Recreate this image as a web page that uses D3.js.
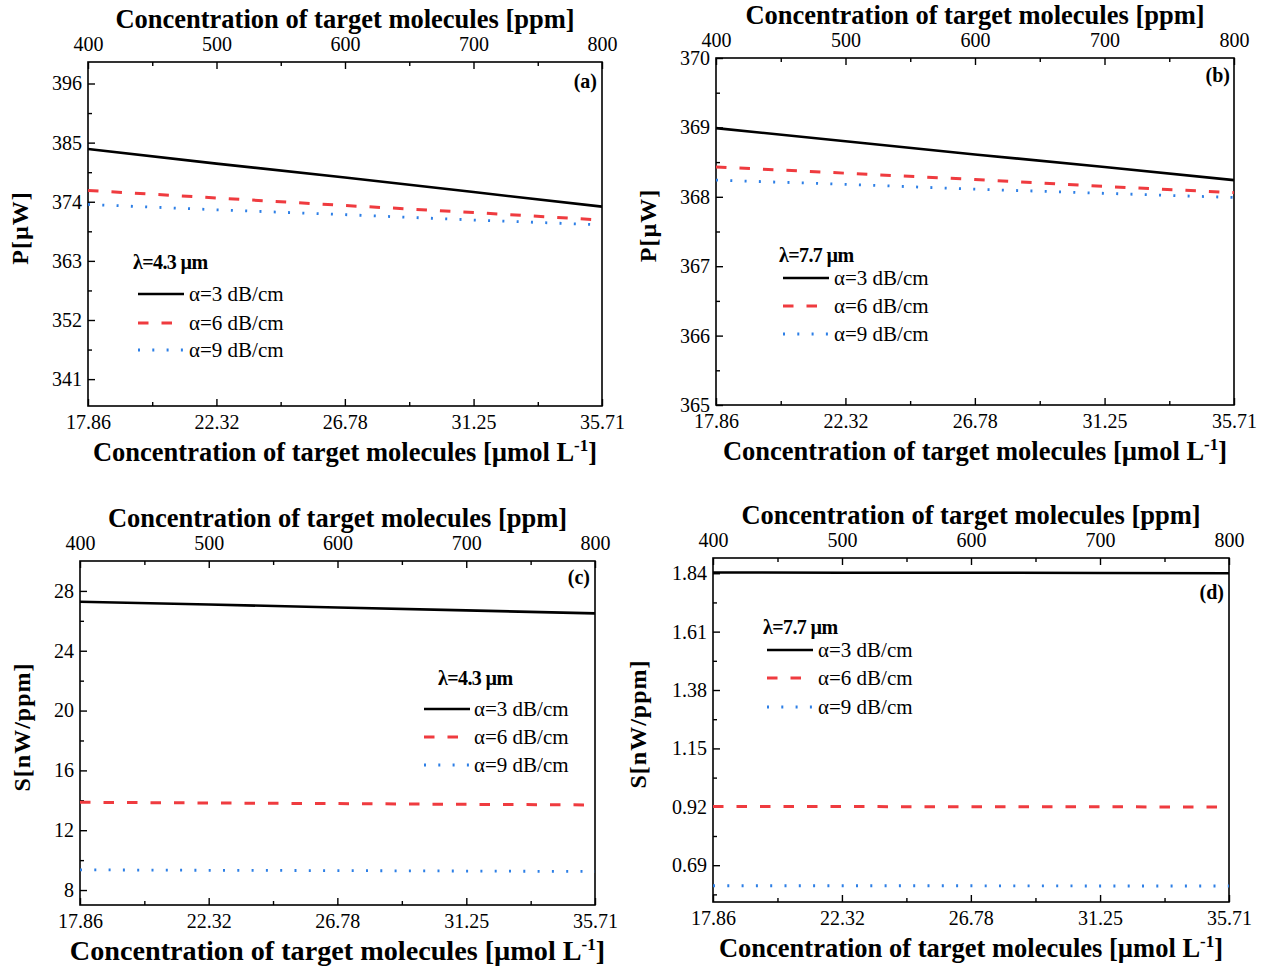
<!DOCTYPE html>
<html>
<head>
<meta charset="utf-8">
<script src="https://cdn.jsdelivr.net/npm/d3@7"></script>
<style>
  body { margin: 0; background: #fff; }
  text { font-family: "Liberation Serif", "Times New Roman", serif; fill: #000; }
</style>
</head>
<body>
<svg id="chart" width="1263" height="968"></svg>
<script>
// concentration in ppm (top axis); the bottom axis is the same range in umol/L
var ppm = [400, 500, 600, 700, 800];
var ppmTicks = [400, 500, 600, 700, 800];
var ppmMinor = [450, 550, 650, 750];
var umolTicks = [17.86, 22.32, 26.78, 31.25, 35.71];
var umolMinor = [20.09, 24.55, 29.015, 33.48];
var seriesNames = ["α=3 dB/cm", "α=6 dB/cm", "α=9 dB/cm"];

// (a) P, lambda = 4.3 um
var a3 = [383.8, 381.1, 378.5, 375.8, 373.1];
var a6 = [376.1, 374.7, 373.3, 372.0, 370.6];
var a9 = [373.5, 372.5, 371.6, 370.6, 369.7];
var aTicks = [341, 352, 363, 374, 385, 396];
var aMinor = [346.5, 357.5, 368.5, 379.5, 390.5];

// (b) P, lambda = 7.7 um
var b3 = [368.99, 368.80, 368.61, 368.43, 368.24];
var b6 = [368.43, 368.34, 368.25, 368.15, 368.06];
var b9 = [368.24, 368.18, 368.11, 368.05, 367.99];
var bTicks = [365, 366, 367, 368, 369, 370];
var bMinor = [365.5, 366.5, 367.5, 368.5, 369.5];

// (c) S, lambda = 4.3 um
var c3 = [27.28, 27.09, 26.89, 26.70, 26.50];
var c6 = [13.87, 13.82, 13.78, 13.73, 13.69];
var c9 = [9.35, 9.32, 9.30, 9.27, 9.24];
var cTicks = [8, 12, 16, 20, 24, 28];
var cMinor = [10, 14, 18, 22, 26];

// (d) S, lambda = 7.7 um
var d3v = [1.843, 1.842, 1.842, 1.841, 1.840];
var d6 = [0.921, 0.921, 0.920, 0.920, 0.919];
var d9 = [0.609, 0.609, 0.609, 0.608, 0.608];
var dTicks = [0.69, 0.92, 1.15, 1.38, 1.61, 1.84];
var dMinor = [0.575, 0.805, 1.035, 1.265, 1.495, 1.725];

var styles = [
  { color: "#000000", width: 2.6, dash: null },
  { color: "#ef3b3f", width: 3, dash: "10.5,13" },
  { color: "#2d7fe6", width: 2.8, dash: "2,12.3" }
];

var panels = [
  { id: "(a)", left: 88, right: 602, top: 62, bottom: 406, ydom: [336, 400],
    ticks: aTicks, minor: aMinor, fmt: d3.format("d"), data: [a3, a6, a9],
    ytitle: "P[µW]", ytx: 20, lam: "λ=4.3 µm", bsize: 26.5,
    leg: { tx: 133, ty: 263, x0: 138, x1: 184, tx2: 189, ys: [294, 323, 350] },
    lab: { x: 597, y: 82 } },
  { id: "(b)", left: 716, right: 1234, top: 58, bottom: 405, ydom: [365, 370],
    ticks: bTicks, minor: bMinor, fmt: d3.format("d"), data: [b3, b6, b9],
    ytitle: "P[µW]", ytx: 648, lam: "λ=7.7 µm", bsize: 26.5,
    leg: { tx: 779, ty: 256, x0: 783, x1: 829, tx2: 834, ys: [278, 306, 334] },
    lab: { x: 1230, y: 76 } },
  { id: "(c)", left: 80, right: 595, top: 561, bottom: 905, ydom: [7, 30],
    ticks: cTicks, minor: cMinor, fmt: d3.format("d"), data: [c3, c6, c9],
    ytitle: "S[nW/ppm]", ytx: 22, lam: "λ=4.3 µm", bsize: 28.2,
    leg: { tx: 438, ty: 679, x0: 424, x1: 470, tx2: 474, ys: [709, 737, 765] },
    lab: { x: 590, y: 578 } },
  { id: "(d)", left: 713, right: 1229, top: 558, bottom: 902, ydom: [0.545, 1.9],
    ticks: dTicks, minor: dMinor, fmt: d3.format(".2f"), data: [d3v, d6, d9],
    ytitle: "S[nW/ppm]", ytx: 638, lam: "λ=7.7 µm", bsize: 26.5,
    leg: { tx: 763, ty: 628, x0: 767, x1: 813, tx2: 818, ys: [650, 678, 707] },
    lab: { x: 1224, y: 593 } }
];

var svg = d3.select("#chart");

panels.forEach(function(p) {
  var g = svg.append("g");
  var x = d3.scaleLinear().domain([400, 800]).range([p.left, p.right]);
  var xu = d3.scaleLinear().domain([17.86, 35.71]).range([p.left, p.right]);
  var y = d3.scaleLinear().domain(p.ydom).range([p.bottom, p.top]);

  function styleAxis(sel) {
    sel.select(".domain").remove();
    sel.selectAll(".tick line").attr("stroke", "#000").attr("stroke-width", 1.4);
    sel.selectAll("text").style("font-size", "20px")
      .style("font-family", "'Liberation Serif', 'Times New Roman', serif");
  }

  // bottom axis (umol/L)
  g.append("g").attr("transform", "translate(0," + p.bottom + ")")
    .call(d3.axisBottom(xu).tickValues(umolTicks).tickSize(-7).tickPadding(9)
      .tickFormat(d3.format(".2f"))).call(styleAxis);
  g.append("g").attr("transform", "translate(0," + p.bottom + ")")
    .call(d3.axisBottom(xu).tickValues(umolMinor).tickSize(-4).tickFormat("")).call(styleAxis);

  // top axis (ppm)
  g.append("g").attr("transform", "translate(0," + p.top + ")")
    .call(d3.axisTop(x).tickValues(ppmTicks).tickSize(-7).tickPadding(11)
      .tickFormat(d3.format("d"))).call(styleAxis);
  g.append("g").attr("transform", "translate(0," + p.top + ")")
    .call(d3.axisTop(x).tickValues(ppmMinor).tickSize(-4).tickFormat("")).call(styleAxis);

  // left axis
  g.append("g").attr("transform", "translate(" + p.left + ",0)")
    .call(d3.axisLeft(y).tickValues(p.ticks).tickSize(-7).tickPadding(6)
      .tickFormat(p.fmt)).call(styleAxis);
  g.append("g").attr("transform", "translate(" + p.left + ",0)")
    .call(d3.axisLeft(y).tickValues(p.minor).tickSize(-4).tickFormat("")).call(styleAxis);

  // frame
  g.append("rect").attr("x", p.left).attr("y", p.top)
    .attr("width", p.right - p.left).attr("height", p.bottom - p.top)
    .attr("fill", "none").attr("stroke", "#000").attr("stroke-width", 1.6);

  // series lines
  var line = d3.line().x(function(d, i) { return x(ppm[i]); }).y(function(d) { return y(d); });
  p.data.forEach(function(vals, k) {
    var s = styles[k];
    g.append("path").datum(vals).attr("d", line)
      .attr("fill", "none").attr("stroke", s.color).attr("stroke-width", s.width)
      .attr("stroke-dasharray", s.dash);
  });

  // axis titles
  g.append("text").attr("x", (p.left + p.right) / 2).attr("y", p.top - 34)
    .attr("text-anchor", "middle").style("font-size", "26.5px").style("font-weight", "bold")
    .text("Concentration of target molecules [ppm]");
  var bt = g.append("text").attr("x", (p.left + p.right) / 2).attr("y", p.bottom + 55)
    .attr("text-anchor", "middle").style("font-size", p.bsize + "px").style("font-weight", "bold");
  bt.append("tspan").text("Concentration of target molecules [µmol L");
  bt.append("tspan").attr("dy", -10).style("font-size", "17px").text("-1");
  bt.append("tspan").attr("dy", 10).text("]");

  var cy = (p.top + p.bottom) / 2 - 6;
  g.append("text").attr("transform", "translate(" + (p.ytx + 8) + "," + cy + ") rotate(-90)")
    .attr("text-anchor", "middle").style("font-size", "24px").style("font-weight", "bold")
    .style("letter-spacing", "1px").text(p.ytitle);

  // panel label
  g.append("text").attr("x", p.lab.x).attr("y", p.lab.y + 6).attr("text-anchor", "end")
    .style("font-size", "20px").style("font-weight", "bold").text(p.id);

  // legend
  g.append("text").attr("x", p.leg.tx).attr("y", p.leg.ty + 6)
    .style("font-size", "20px").style("font-weight", "bold").style("letter-spacing", "-0.6px")
    .text(p.lam);
  seriesNames.forEach(function(name, k) {
    var s = styles[k];
    var yy = p.leg.ys[k];
    g.append("line").attr("x1", p.leg.x0).attr("x2", p.leg.x1).attr("y1", yy).attr("y2", yy)
      .attr("stroke", s.color).attr("stroke-width", s.width)
      .attr("stroke-dasharray", s.dash);
    g.append("text").attr("x", p.leg.tx2).attr("y", yy + 7)
      .style("font-size", "21px").text(name);
  });
});
</script>
</body>
</html>
